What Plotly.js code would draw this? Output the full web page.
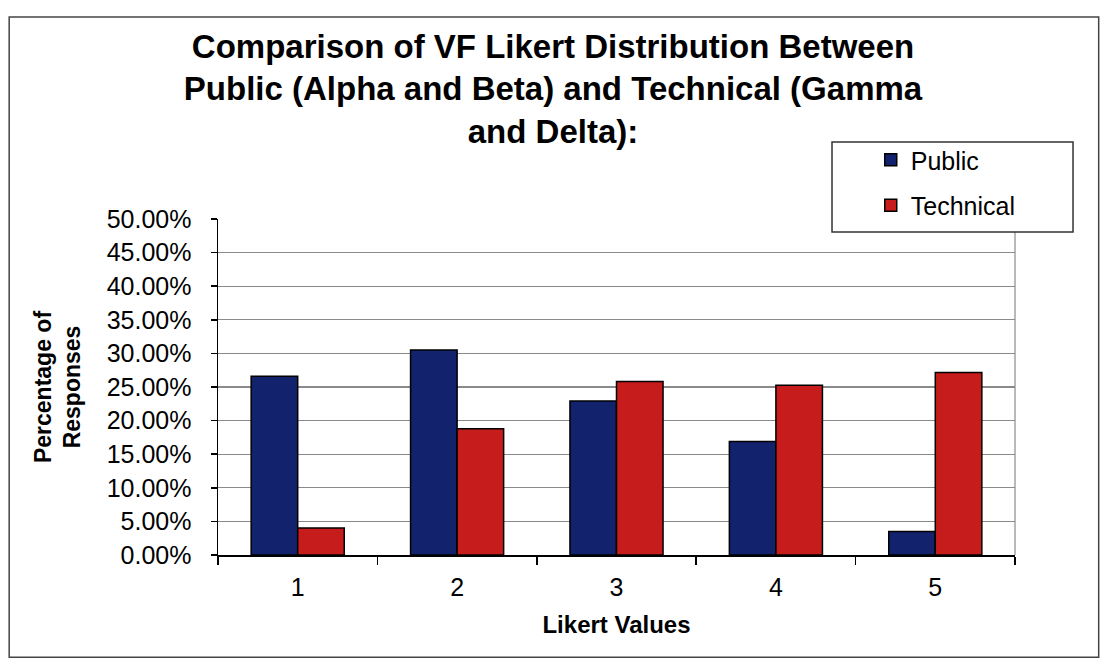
<!DOCTYPE html>
<html>
<head>
<meta charset="utf-8">
<script src="https://cdn.plot.ly/plotly-3.0.1.min.js"></script>
<style>
html,body{margin:0;padding:0;background:#fff;}
#chart{width:1106px;height:662px;}
</style>
</head>
<body>
<div id="chart"></div>
<script>
// Data (fractions of responses)
const likertValues = ['1', '2', '3', '4', '5'];
const publicValues = [0.266, 0.305, 0.229, 0.169, 0.035];
const technicalValues = [0.040, 0.188, 0.258, 0.2525, 0.2715];
const yTickValues = [0, 0.05, 0.10, 0.15, 0.20, 0.25, 0.30, 0.35, 0.40, 0.45, 0.50];

const FONT = '"Liberation Sans", Arial, sans-serif';

const traces = [
  {
    type: 'bar', name: 'Public', x: likertValues, y: publicValues,
    marker: {color: '#13226d', line: {color: '#000000', width: 1.5}},
    legendgroup: 'a'
  },
  {
    type: 'bar', name: 'Technical', x: likertValues, y: technicalValues,
    marker: {color: '#c71c1c', line: {color: '#000000', width: 1.5}},
    legendgroup: 'b'
  }
];

const layout = {
  width: 1106, height: 662,
  paper_bgcolor: '#ffffff', plot_bgcolor: '#ffffff',
  margin: {l: 218, r: 91, t: 219, b: 107},
  font: {family: FONT, color: '#000000'},
  barmode: 'group', bargap: 0.416, bargroupgap: 0,
  title: {
    text: '<b>Comparison of VF Likert Distribution Between<br>Public (Alpha and Beta) and Technical (Gamma<br>and Delta):</b>',
    font: {family: FONT, size: 33, color: '#000000'},
    x: 0.5, xref: 'container', xanchor: 'center',
    y: 0.913, yref: 'container', yanchor: 'top'
  },
  xaxis: {
    type: 'category',
    title: {text: '<b>Likert Values</b>', font: {family: FONT, size: 24}, standoff: 16},
    tickfont: {family: FONT, size: 25},
    showline: true, linecolor: '#000000', linewidth: 1.5,
    ticks: 'outside', ticklen: 8, tickcolor: '#000000', tickwidth: 1.5,
    tickson: 'boundaries', ticklabelstandoff: 9,
    showgrid: false, zeroline: false
  },
  yaxis: {
    range: [0, 0.5], tickvals: yTickValues, tickformat: '.2%',
    title: {text: '<b>Percentage of<br>Responses</b>', font: {family: FONT, size: 23}, standoff: 19},
    tickfont: {family: FONT, size: 25},
    showline: true, linecolor: '#000000', linewidth: 1.5,
    ticks: 'outside', ticklen: 6, tickcolor: '#000000', tickwidth: 1.5,
    ticklabelstandoff: 14,
    showgrid: true, gridcolor: '#8a8a8a', gridwidth: 1.2, zeroline: false
  },
  legend: {
    x: 0.819, y: 1.244, xanchor: 'left', yanchor: 'top',
    bgcolor: 'rgba(0,0,0,0)', borderwidth: 0,
    font: {family: FONT, size: 25},
    tracegroupgap: 10, traceorder: 'grouped',
    itemwidth: 30
  },
  shapes: [
    {type: 'line', xref: 'paper', yref: 'paper', x0: 1, x1: 1, y0: 0, y1: 1,
     line: {color: '#8a8a8a', width: 1.2}},
    {type: 'rect', xref: 'paper', yref: 'paper', x0: -0.262, x1: 1.105, y0: -0.304, y1: 1.601,
     line: {color: '#444444', width: 1.5}, fillcolor: 'rgba(0,0,0,0)', layer: 'below'},
    {type: 'rect', xref: 'paper', yref: 'paper', x0: 0.7704, x1: 1.0728, y0: 0.961, y1: 1.229,
     line: {color: '#333333', width: 1.5}, fillcolor: '#ffffff', layer: 'above'}
  ],
  showlegend: true
};

Plotly.newPlot('chart', traces, layout, {staticPlot: true, displayModeBar: false});
</script>
</body>
</html>
